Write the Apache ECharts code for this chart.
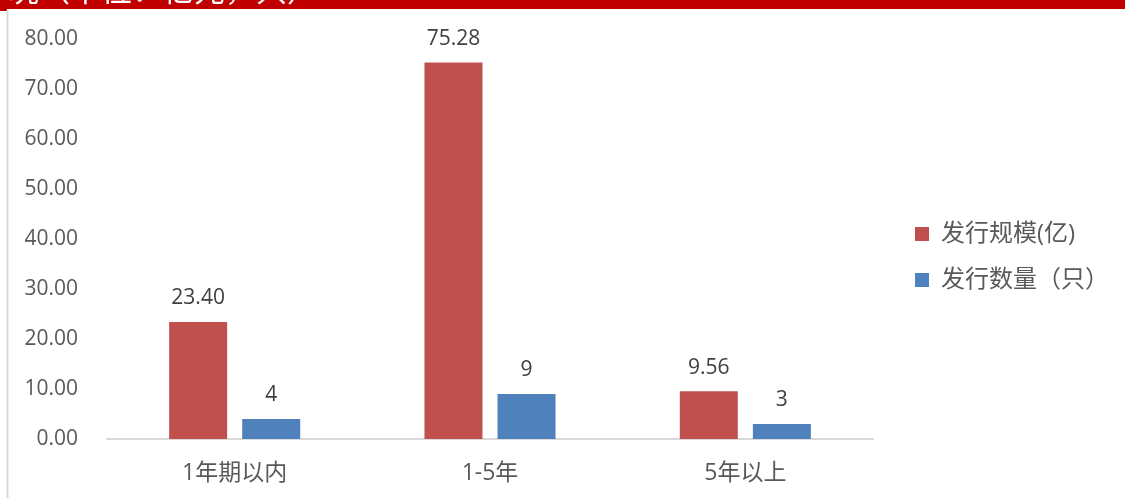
<!DOCTYPE html>
<html>
<head>
<meta charset="utf-8">
<script src="https://cdn.jsdelivr.net/npm/echarts@6/dist/echarts.min.js"></script>
<style>
  html, body { margin: 0; padding: 0; background: #fff; }
  #main { width: 1125px; height: 498px; }
</style>
</head>
<body>
<div id="main"></div>
<script>
// data
var categories = ['1年期以内', '1-5年', '5年以上'];
var scaleData = [23.40, 75.28, 9.56];
var countData = [4, 9, 3];
var seriesNames = ['发行规模(亿)', '发行数量（只）'];
var headerText = '况（单位：亿元，只）';

var font = "'Open Sans', 'Noto Sans CJK SC', sans-serif";

var myChart = echarts.init(document.getElementById('main'));

var option = {
    animation: false,
    textStyle: { fontFamily: font },
    graphic: [
        { type: 'rect', z: 1, shape: { x: 0, y: 0, width: 1125, height: 9 }, style: { fill: '#c00000' } },
        { type: 'rect', z: 1, shape: { x: 0, y: 0, width: 7, height: 11 }, style: { fill: '#c00000' } },
        { type: 'line', z: 1, shape: { x1: 7.5, y1: 10, x2: 7.5, y2: 498 }, style: { stroke: '#d9d9d9', lineWidth: 2 } },
        // header title, only its lower edge is visible
        {
            type: 'text', left: 8, top: -26, z: 10,
            style: { text: headerText, fill: '#fff', font: "31px 'Noto Sans CJK SC'" }
        }
    ],
    grid: { left: 107, right: 252, top: 39, bottom: 59 },
    legend: {
        orient: 'vertical',
        left: 915, top: 222, padding: 0,
        itemWidth: 14, itemHeight: 14, itemGap: 22,
        icon: 'rect',
        textStyle: { fontSize: 24, color: '#595959', fontFamily: font, padding: [0, 0, 0, 7] },
        data: seriesNames
    },
    xAxis: {
        type: 'category',
        data: categories,
        axisLine: { lineStyle: { color: '#d9d9d9', width: 2 } },
        axisTick: { show: false },
        axisLabel: { fontSize: 23, color: '#595959', margin: 23 }
    },
    yAxis: {
        type: 'value',
        min: 0, max: 80, interval: 10,
        axisLine: { show: false },
        axisTick: { show: false },
        splitLine: { show: false },
        axisLabel: { fontSize: 21, color: '#595959', margin: 29, formatter: function (v) { return v.toFixed(2); } }
    },
    series: [
        {
            name: seriesNames[0], type: 'bar', data: scaleData,
            barWidth: 58, barGap: '26%',
            itemStyle: { color: '#c0504d' },
            label: { show: true, position: 'top', distance: 13, fontSize: 21, color: '#404040', formatter: function (p) { return p.value.toFixed(2); } }
        },
        {
            name: seriesNames[1], type: 'bar', data: countData,
            barWidth: 58,
            itemStyle: { color: '#4f81bd' },
            label: { show: true, position: 'top', distance: 13, fontSize: 21, color: '#404040' }
        }
    ]
};

myChart.setOption(option);
</script>
</body>
</html>
